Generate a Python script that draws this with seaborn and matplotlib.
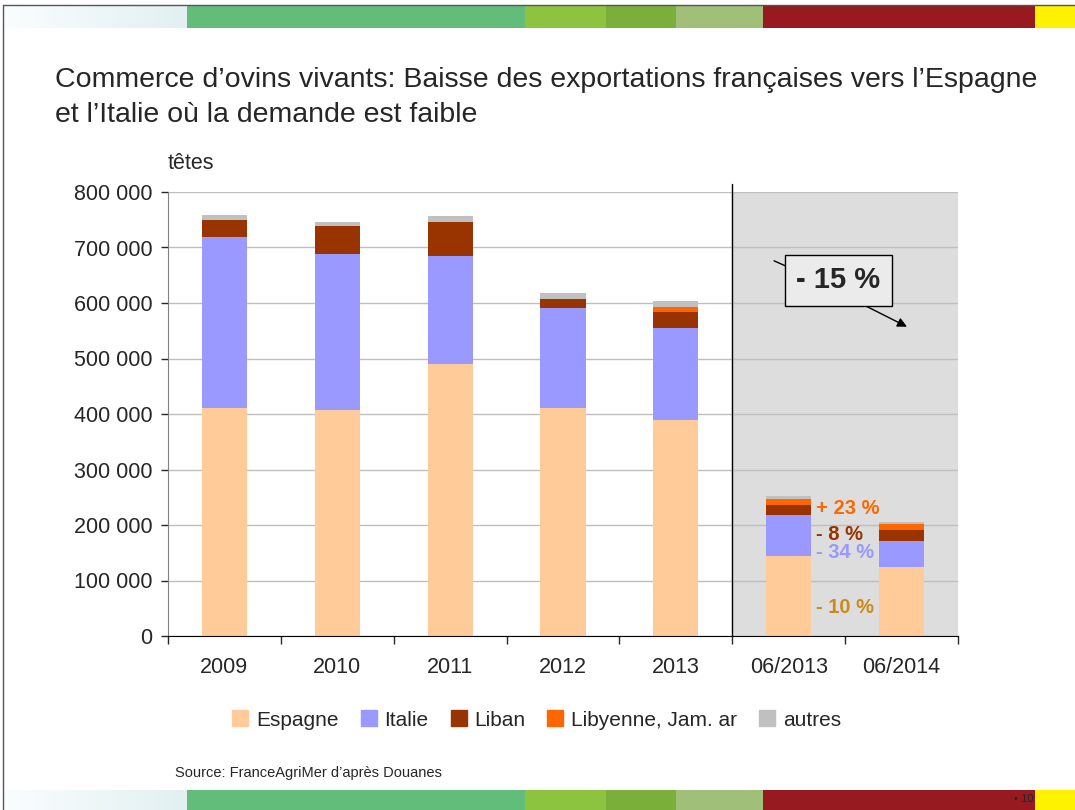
# commerce d'ovins vivants - stacked bars with seaborn

import numpy as np
import pandas as pd
import seaborn as sns
import matplotlib.pyplot as plt
from matplotlib.patches import Rectangle
from matplotlib.lines import Line2D

categories = ["2009", "2010", "2011", "2012", "2013", "06/2013", "06/2014"]
espagne = [410000, 407000, 490000, 410000, 389000, 144000, 124000]
italie = [309000, 281000, 195000, 181000, 166000, 74000, 47000]
liban = [31000, 51000, 61000, 16000, 29000, 18000, 20000]
libyenne = [0, 0, 0, 0, 9000, 11000, 11000]
autres = [9000, 7000, 11000, 11000, 11000, 5000, 3000]

series_names = ["Espagne", "Italie", "Liban", "Libyenne, Jam. ar", "autres"]
series_vals = [espagne, italie, liban, libyenne, autres]
colors = ["#FFCC99", "#9999FF", "#993300", "#FF6600", "#C0C0C0"]

pct_labels = ["+ 23 %", "- 8 %", "- 34 %", "- 10 %"]
pct_colors = ["#FF6600", "#993300", "#9999FF", "#CC8A1A"]
pct_y = [230000, 183000, 150000, 52000]

sns.set_style("white")
plt.rcParams["font.family"] = ["Liberation Sans", "DejaVu Sans"]

fig = plt.figure(figsize=(10.75, 8.1), dpi=100)
ax = fig.add_axes([168 / 1075, 1 - 636 / 810, 790 / 1075, 444 / 810])

# stacked bars
bottom = np.zeros(len(categories))
for name, vals, col in zip(series_names, series_vals, colors):
    df = pd.DataFrame({"cat": categories, "val": vals})
    sns.barplot(data=df, x="cat", y="val", order=categories, bottom=bottom,
                color=col, width=0.4, saturation=1, linewidth=0, ax=ax, zorder=2)
    bottom = bottom + np.array(vals)

ax.set_xlim(-0.5, 6.5)
ax.set_ylim(0, 800000)
ax.axvspan(4.5, 6.5, color="#DDDDDD", zorder=0)
ax.axvline(4.5, ymin=0, ymax=1.018, color="black", lw=1, clip_on=False, zorder=3)

ax.set_yticks(np.arange(0, 800001, 100000))
ax.set_yticklabels([f"{v:,}".replace(",", " ") for v in range(0, 800001, 100000)], fontsize=15.5)
ax.yaxis.grid(True, color="#BEBEBE", lw=1)
ax.set_axisbelow(True)
ax.tick_params(axis="y", length=5, width=1, direction="out", left=True, pad=6)

ax.set_xticks(range(len(categories)))
ax.set_xticklabels(categories, fontsize=15.5)
ax.tick_params(axis="x", length=0, pad=15)
ax.set_xticks(np.arange(-0.5, 7, 1), minor=True)
ax.tick_params(axis="x", which="minor", length=6, width=1, direction="out", bottom=True)
ax.set_xlabel("")
ax.set_ylabel("")

for s in ["top", "right"]:
    ax.spines[s].set_visible(False)
ax.spines["left"].set_color("#808080")
ax.spines["bottom"].set_color("black")

ax.text(0, 1.04, "têtes", transform=ax.transAxes, fontsize=15.5, va="bottom", ha="left")

# percentage labels next to 06/2013
for lab, c, y in zip(pct_labels, pct_colors, pct_y):
    ax.text(5.24, y, lab, color=c, fontsize=14.5, fontweight="bold", va="center", ha="left", zorder=4)

# -15% box with arrow
ax.annotate("", xy=(6.07, 555000), xytext=(5.63, 600000),
            arrowprops=dict(arrowstyle="-|>", color="black", lw=1, mutation_scale=14), zorder=4)
ax.plot([4.87, 4.97], [676000, 667000], color="black", lw=1, zorder=4)
ax.text(5.44, 641000, "- 15 %", fontsize=21, fontweight="bold", ha="center", va="center", zorder=5,
        bbox=dict(boxstyle="square,pad=0.4", fc="#EBEBEB", ec="black", lw=1))

# legend
handles = [Line2D([], [], marker="s", ls="", markersize=12, markerfacecolor=c, markeredgecolor=c)
           for c in colors]
fig.legend(handles, series_names, loc="center", bbox_to_anchor=(537 / 1075, 1 - 720 / 810),
           ncol=5, frameon=False, fontsize=15, handlelength=0.7, handletextpad=0.4, columnspacing=1.1)

# titles and notes
fig.text(55 / 1075, 1 - 80 / 810, "Commerce d’ovins vivants: Baisse des exportations françaises vers l’Espagne",
         fontsize=20.5, va="center", ha="left")
fig.text(55 / 1075, 1 - 115 / 810, "et l’Italie où la demande est faible", fontsize=20.5, va="center", ha="left")
fig.text(175 / 1075, 1 - 773 / 810, "Source: FranceAgriMer d’après Douanes", fontsize=10.5, va="center", ha="left")

# decorative slide bands
bands = [(187, 525, "#62BD7A"), (525, 606, "#8DC43F"), (606, 676, "#7AB03A"),
         (676, 763, "#A0BF78"), (763, 1035, "#961A1F"), (1035, 1075, "#FFF200")]
for y0, h in [(5, 23), (790, 20)]:
    grad = np.linspace(0, 1, 50).reshape(1, -1)
    gax = fig.add_axes([5 / 1075, 1 - (y0 + h) / 810, 182 / 1075, h / 810])
    gax.imshow(grad, aspect="auto", cmap=sns.blend_palette(["#FAFDFE", "#E2F0F2"], as_cmap=True))
    gax.axis("off")
    for x0, x1, c in bands:
        fig.add_artist(Rectangle((x0 / 1075, 1 - (y0 + h) / 810), (x1 - x0) / 1075, h / 810,
                                 transform=fig.transFigure, color=c, lw=0))
fig.add_artist(Line2D([3 / 1075, 3 / 1075], [0, 1 - 5 / 810], transform=fig.transFigure, color="#555555", lw=1))
fig.add_artist(Line2D([3 / 1075, 1], [1 - 5 / 810, 1 - 5 / 810], transform=fig.transFigure, color="#555555", lw=1))
fig.text(1034 / 1075, 1 - 799 / 810, "• 10", fontsize=8, ha="right", va="center")

fig.savefig("out.png", dpi=100)
